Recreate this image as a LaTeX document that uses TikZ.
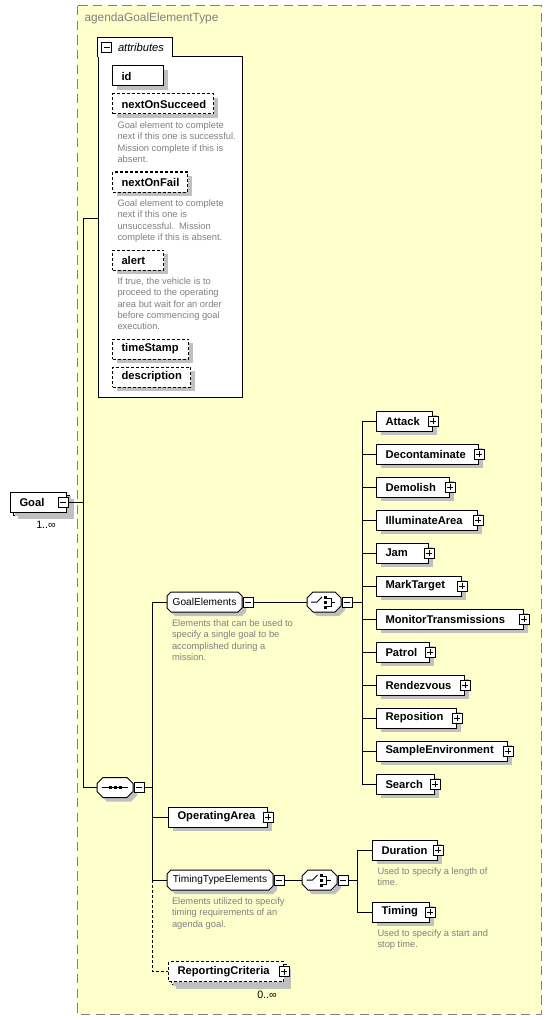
\documentclass[tikz,border=0pt]{standalone}
\usepackage{fontspec}
\setmainfont{Liberation Sans}
\usetikzlibrary{shadows}

\definecolor{typefill}{RGB}{255,255,204}
\definecolor{shadowgray}{RGB}{192,192,192}
\definecolor{infogray}{RGB}{128,128,128}

\begin{document}
\begin{tikzpicture}[x=0.75pt,y=-0.75pt,line width=0.75pt,
  every node/.style={font=\fontsize{8.4}{10}\selectfont},
  shadowed/.style={general shadow={fill=shadowgray,shadow xshift=3pt,shadow yshift=-3pt}},
  opt/.style={dash pattern=on 2.25pt off 1.5pt},
  elem/.style={draw,fill=white,shadowed,anchor=west,inner xsep=6.75pt,inner ysep=0pt,
    minimum height=15pt,font=\bfseries\fontsize{8.4}{10}\selectfont},
  grp/.style={inner sep=0pt,minimum height=15pt,font=\fontsize{7.6}{9}\selectfont},
  comp/.style={inner sep=0pt,minimum height=15pt},
  info/.style={anchor=north west,inner sep=0pt,align=left,text=infogray,
    font=\fontsize{7}{8.5}\selectfont},
  occurs/.style={font=\fontsize{8}{9}\selectfont},
  plusbox/.style={draw,fill=white,inner sep=0pt,minimum size=7.5pt,
    path picture={\draw ([xshift=1.5pt]path picture bounding box.west) -- ([xshift=-1.5pt]path picture bounding box.east)
      ([yshift=-1.5pt]path picture bounding box.north) -- ([yshift=1.5pt]path picture bounding box.south);}},
  minusbox/.style={draw,fill=white,inner sep=0pt,minimum size=7.5pt,
    path picture={\draw ([xshift=1.5pt]path picture bounding box.west) -- ([xshift=-1.5pt]path picture bounding box.east);}},
  % chamfered outline with its shadow: half width, half height, corner
  pics/octo/.style n args={3}{code={
    \fill[shadowgray] (4-#1+#3,4-#2) -- (4+#1-#3,4-#2) -- (4+#1,4-#2+#3) -- (4+#1,4+#2-#3)
      -- (4+#1-#3,4+#2) -- (4-#1+#3,4+#2) -- (4-#1,4+#2-#3) -- (4-#1,4-#2+#3) -- cycle;
    \draw[fill=white] (-#1+#3,-#2) -- (#1-#3,-#2) -- (#1,-#2+#3) -- (#1,#2-#3)
      -- (#1-#3,#2) -- (-#1+#3,#2) -- (-#1,#2-#3) -- (-#1,-#2+#3) -- cycle;}},
  pics/seqicon/.style={code={
    \draw (-13,0) -- (13,0);
    \foreach \dx in {-5,0,5} \fill (\dx-1.5,-1.5) rectangle (\dx+1.5,1.5);}},
  pics/choiceicon/.style={code={
    \draw (-13,0) -- (-7,0) -- (-2,-5);
    \foreach \dy in {-5,0,5} \fill (0,\dy-1.5) rectangle (3,\dy+1.5);
    \draw (3,-4) -- (7,-4) -- (7,4) -- (3,4) (7,0) -- (11,0);}}
]
\useasboundingbox (0,0) rectangle (552,1020);

% complex type frame
\draw[draw=infogray,fill=typefill,dash pattern=on 7pt off 4pt] (77,6) rectangle (541,1014);
\node[anchor=west,inner sep=0pt,text=infogray,font=\fontsize{8.9}{10}\selectfont] (typename) at (84,18) {agendaGoalElementType};

% attributes
\node[draw,fill=white,minimum width=108pt,minimum height=255pt,inner sep=0pt] (attrs) at (170,227) {};
\node[fill=white,anchor=south west,inner sep=0pt,minimum height=14.25pt,
  font=\itshape\fontsize{8.4}{10}\selectfont] (attrtab) at ([yshift=-0.6pt]attrs.north west)
  {\makebox[55.5pt][l]{\hspace{15pt}attributes}};
\draw (attrtab.south west) |- (attrtab.north east) -- (attrtab.south east);
\node[minusbox] (attrm) at ([xshift=6.75pt]attrtab.west) {};

\foreach \nm/\lbl/\yy/\r/\st in {id/id/76/163/solid, nos/nextOnSucceed/104/213/opt,
    nof/nextOnFail/182/187/opt, alert/alert/260/163/opt,
    stamp/timeStamp/349/188/opt, descr/description/377/190/opt} {
  \pgfmathsetlengthmacro\tw{(\r-130)*0.75pt}
  \node[elem,\st] (\nm) at (112,\yy) {\makebox[\tw][l]{\lbl}};
}
\node[info] (nosinfo) at ([xshift=3.75pt,yshift=-5pt]nos.south west)
  {Goal element to complete\\next if this one is successful.\\Mission complete if this is\\absent.};
\node[info] (nofinfo) at ([xshift=3.75pt,yshift=-5pt]nof.south west)
  {Goal element to complete\\next if this one is\\unsuccessful.\ \ Mission\\complete if this is absent.};
\node[info] (alertinfo) at ([xshift=3.75pt,yshift=-5pt]alert.south west)
  {If true, the vehicle is to\\proceed to the operating\\area but wait for an order\\before commencing goal\\execution.};

% root element
\node[elem] (goalback) at (13,505) {\makebox[28.5pt]{}};
\node[elem] (goal) at (10,502) {\makebox[28.5pt][l]{Goal}};
\node[minusbox] (goalm) at ([xshift=-3pt]goal.east) {};
\node[occurs] (goalocc) at (46,525) {1..∞};

\coordinate (goaljoin) at (83,502);
\coordinate (attjoin) at (83,218);
\coordinate (seqjoin) at (83,787.5);
\draw (goalm.east) -- (goaljoin);
\draw (attjoin) -- (seqjoin);
\draw (attjoin) -- (attrs.west |- attjoin);

% sequence
\pic at (115,787.5) {octo={18}{10}{6}};
\pic at (115,787.5) {seqicon};
\node[comp,minimum width=27pt] (seq) at (115,787.5) {};
\node[minusbox,anchor=west] (seqm) at (seq.east) {};
\draw (seqjoin) -- (seq.west);

\pic at (204.5,602) {octo={37.5}{10}{4}};
\node[grp,minimum width=56.25pt] (ge) at (204.5,602) {GoalElements};
\node[minusbox,anchor=west] (gem) at (ge.east) {};
\node[info] (geinfo) at ([xshift=3.75pt,yshift=-5pt]ge.south west)
  {Elements that can be used to\\specify a single goal to be\\accomplished during a\\mission.};

\node[elem] (oa) at (168,817) {\makebox[60.75pt][l]{OperatingArea}};
\node[plusbox] (oa-x) at (oa.east) {};

\pic at (220,880) {octo={53}{10}{4}};
\node[grp,minimum width=79.5pt] (tte) at (220,880) {TimingTypeElements};
\node[minusbox,anchor=west] (ttem) at (tte.east) {};
\node[info] (tteinfo) at ([xshift=3.75pt,yshift=-5pt]tte.south west)
  {Elements utilized to specify\\timing requirements of an\\agenda goal.};

\node[elem,opt] (rcback) at (171,974.5) {\makebox[72.75pt]{}};
\node[elem,opt] (rc) at (168,971.5) {\makebox[72.75pt][l]{ReportingCriteria}};
\node[plusbox] (rc-x) at (rc.east) {};
\node[occurs] (rcocc) at (267,995) {0..∞};

\coordinate (sbus) at (152,787.5);
\draw (seqm.east) -- (sbus);
\draw (sbus |- ge.west) -- (sbus |- tte.west);
\draw (sbus |- ge.west) -- (ge.west);
\draw (sbus |- oa.west) -- (oa.west);
\draw (sbus |- tte.west) -- (tte.west);
\draw[opt] (sbus |- tte.west) -- (sbus |- rc.west) -- (rc.west);

% goal element choice
\pic at (324,602) {octo={17}{10}{6}};
\pic at (324,602) {choiceicon};
\node[comp,minimum width=25.5pt] (gch) at (324,602) {};
\node[minusbox,anchor=west] (gchm) at (gch.east) {};
\draw (gem.east) -- (gch.west);
\coordinate (gbar) at (362,602);
\draw (gchm.east) -- (gbar);

\foreach \nm/\lbl/\r [count=\i from 0] in {attack/Attack/432, deco/Decontaminate/478,
    demolish/Demolish/449, illum/IlluminateArea/477, jam/Jam/428, mark/MarkTarget/461,
    monitor/MonitorTransmissions/523, patrol/Patrol/429, rendez/Rendezvous/464,
    repos/Reposition/456, sample/SampleEnvironment/507, search/Search/434} {
  \pgfmathsetmacro\yy{421+33*\i}
  \pgfmathsetlengthmacro\tw{(\r-394)*0.75pt}
  \node[elem] (\nm) at (376,\yy) {\makebox[\tw][l]{\lbl}};
  \node[plusbox] (\nm-x) at (\nm.east) {};
  \draw (gbar |- \nm.west) -- (\nm.west);
}
\draw (gbar |- attack.west) -- (gbar |- search.west);

% timing choice
\pic at (319.5,880) {octo={17.5}{10}{6}};
\pic at (319.5,880) {choiceicon};
\node[comp,minimum width=26.25pt] (tch) at (319.5,880) {};
\node[minusbox,anchor=west] (tchm) at (tch.east) {};
\draw (ttem.east) -- (tch.west);
\coordinate (tbar) at (357,880);
\draw (tchm.east) -- (tbar);

\node[elem] (dur) at (372,850) {\makebox[35.25pt][l]{Duration}};
\node[plusbox] (dur-x) at (dur.east) {};
\node[info] (durinfo) at ([xshift=3.75pt,yshift=-5pt]dur.south west)
  {Used to specify a length of\\time.};
\node[elem] (tim) at (372,912) {\makebox[29.25pt][l]{Timing}};
\node[plusbox] (tim-x) at (tim.east) {};
\node[info] (timinfo) at ([xshift=3.75pt,yshift=-5pt]tim.south west)
  {Used to specify a start and\\stop time.};
\draw (tbar |- dur.west) -- (tbar |- tim.west);
\draw (tbar |- dur.west) -- (dur.west);
\draw (tbar |- tim.west) -- (tim.west);
\end{tikzpicture}
\end{document}
